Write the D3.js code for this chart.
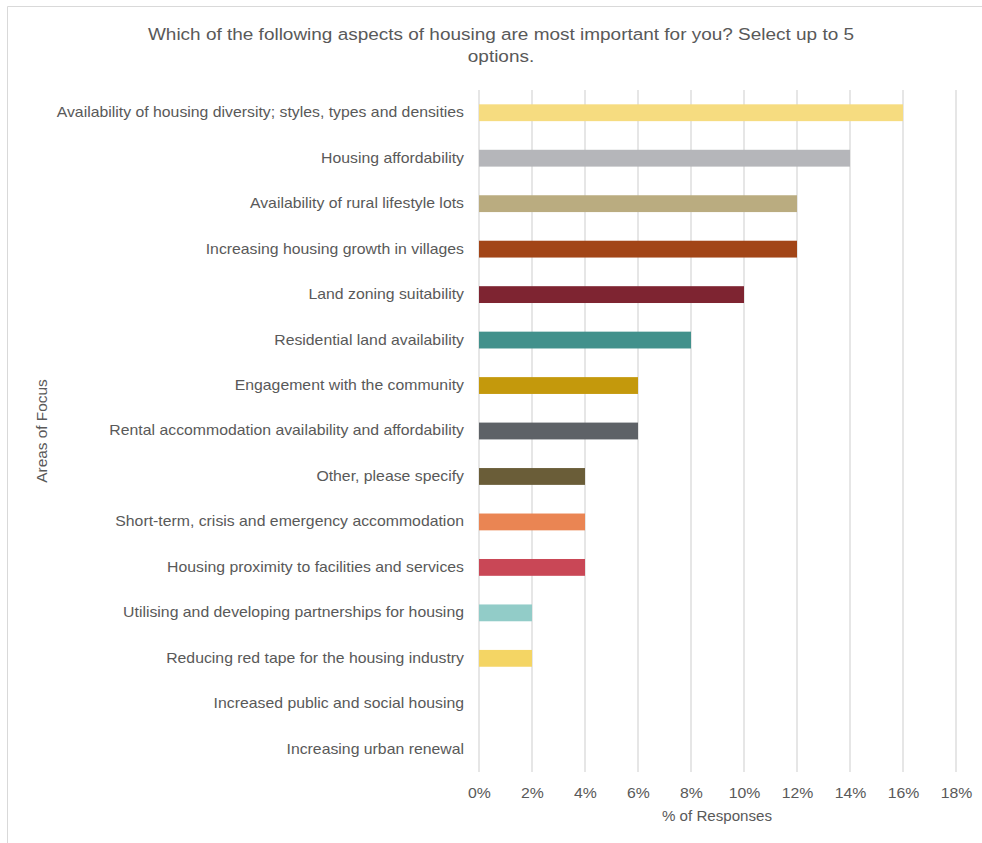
<!DOCTYPE html>
<html><head><meta charset="utf-8">
<script src="https://cdn.jsdelivr.net/npm/d3@7"></script>
<style>body{margin:0;background:#fff}svg{display:block}text{font-family:"Liberation Sans",Arial,sans-serif;fill:#595959}</style>
</head><body>
<script>
const categories = [
  "Availability of housing diversity; styles, types and densities",
  "Housing affordability",
  "Availability of rural lifestyle lots",
  "Increasing housing growth in villages",
  "Land zoning suitability",
  "Residential land availability",
  "Engagement with the community",
  "Rental accommodation availability and affordability",
  "Other, please specify",
  "Short-term, crisis and emergency accommodation",
  "Housing proximity to facilities and services",
  "Utilising and developing partnerships for housing",
  "Reducing red tape for the housing industry",
  "Increased public and social housing",
  "Increasing urban renewal"
];
const values = [16, 14, 12, 12, 10, 8, 6, 6, 4, 4, 4, 2, 2, 0, 0];
const colors = ["#F6DC80","#B5B6BA","#BAAC80","#A24517","#7E2431","#42918C","#C4990C","#5E6267","#6A5D38","#EA8553","#C94756","#92CCC8","#F4D564","#cccccc","#cccccc"];
const ticks = [0,2,4,6,8,10,12,14,16,18];
const title = ["Which of the following aspects of housing are most important for you? Select up to 5","options."];

const W = 982, H = 843;
const SX = 1.13;
const svg = d3.select("body").append("svg").attr("width", W).attr("height", H);
svg.append("path").attr("d", `M7.5,${H} V6.5 H${W}`).attr("fill","none").attr("stroke","#d9d9d9").attr("stroke-width",1);

const x = d3.scaleLinear().domain([0,18]).range([479,956]);
const y = d3.scaleBand().domain(categories).range([90,772]).paddingInner(0.63).paddingOuter(0.315);

svg.append("g").selectAll("line").data(ticks).join("line")
  .attr("x1", d=>x(d)).attr("x2", d=>x(d)).attr("y1",90).attr("y2",772)
  .attr("stroke","#d9d9d9").attr("stroke-width",1.3);

svg.append("g").selectAll("rect").data(values).join("rect")
  .attr("x", x(0)).attr("y",(d,i)=>y(categories[i]))
  .attr("width", d=>x(d)-x(0)).attr("height", y.bandwidth())
  .attr("fill",(d,i)=>colors[i]);

const xa = svg.append("g").attr("transform","translate(0,772)")
  .call(d3.axisBottom(x).tickValues(ticks).tickFormat(d=>d+"%").tickSize(0).tickPadding(16));
xa.select(".domain").remove();
xa.selectAll("text").attr("font-size",14).attr("fill","#595959").attr("transform",`scale(${SX},1)`);

const ya = svg.append("g").attr("transform","translate(479,0)")
  .call(d3.axisLeft(y).tickSize(0).tickPadding(13.3));
ya.select(".domain").remove();
ya.selectAll("text").attr("font-size",14).attr("fill","#595959").attr("transform",`scale(${SX},1)`);

svg.append("g").selectAll("text").data(title).join("text")
  .attr("transform",(d,i)=>`translate(501,${40+i*22}) scale(1.15,1)`)
  .attr("text-anchor","middle").attr("font-size",16.5).text(d=>d);

svg.append("text").attr("transform","translate(717,821) scale(1.08,1)").attr("text-anchor","middle").attr("font-size",14).text("% of Responses");
svg.append("text").attr("transform","translate(47,431) rotate(-90) scale(1.1,1)").attr("text-anchor","middle").attr("font-size",14).text("Areas of Focus");
</script>
</body></html>
